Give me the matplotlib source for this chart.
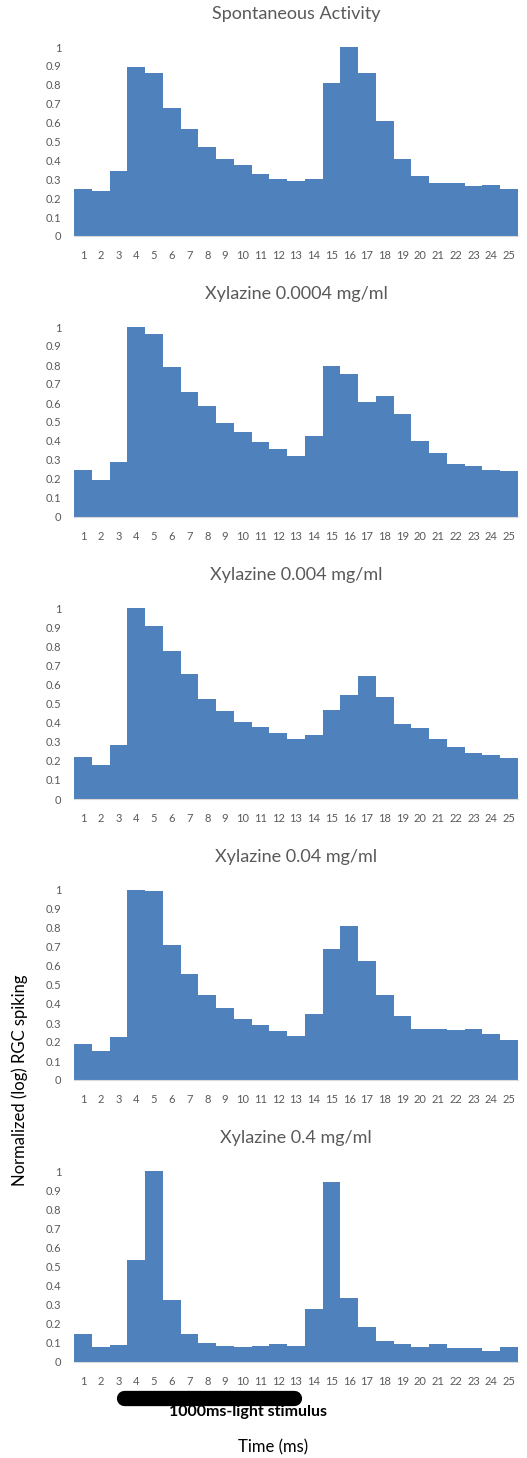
import matplotlib
matplotlib.use("Agg")
import matplotlib.pyplot as plt
import matplotlib.transforms as mtransforms
import numpy as np

plt.rcParams['font.family'] = ['Lato', 'DejaVu Sans']

bins = list(range(1, 26))
titles = ["Spontaneous Activity",
          "Xylazine 0.0004 mg/ml",
          "Xylazine 0.004 mg/ml",
          "Xylazine 0.04 mg/ml",
          "Xylazine 0.4 mg/ml"]

spontaneous = [0.25, 0.24, 0.345, 0.895, 0.86, 0.675, 0.565, 0.47, 0.405, 0.375, 0.33, 0.30, 0.293,
               0.30, 0.808, 1.0, 0.86, 0.61, 0.405, 0.315, 0.283, 0.278, 0.263, 0.272, 0.25]
xyl_0004 = [0.247, 0.196, 0.292, 1.0, 0.965, 0.79, 0.658, 0.586, 0.497, 0.446, 0.395, 0.358, 0.32,
            0.425, 0.796, 0.753, 0.607, 0.637, 0.54, 0.402, 0.337, 0.277, 0.268, 0.247, 0.24]
xyl_004 = [0.219, 0.18, 0.284, 1.0, 0.905, 0.774, 0.657, 0.524, 0.459, 0.401, 0.378, 0.343, 0.313,
           0.334, 0.468, 0.546, 0.643, 0.532, 0.394, 0.37, 0.312, 0.27, 0.24, 0.231, 0.217]
xyl_04 = [0.187, 0.152, 0.226, 1.0, 0.993, 0.708, 0.56, 0.445, 0.378, 0.32, 0.291, 0.256, 0.233,
          0.35, 0.687, 0.811, 0.627, 0.445, 0.335, 0.27, 0.27, 0.261, 0.268, 0.24, 0.21]
xyl_4 = [0.145, 0.079, 0.087, 0.533, 1.0, 0.322, 0.145, 0.101, 0.086, 0.079, 0.086, 0.094, 0.086,
         0.278, 0.942, 0.336, 0.182, 0.11, 0.094, 0.079, 0.094, 0.072, 0.072, 0.059, 0.08]
series = [spontaneous, xyl_0004, xyl_004, xyl_04, xyl_4]

yticks = [0, 0.1, 0.2, 0.3, 0.4, 0.5, 0.6, 0.7, 0.8, 0.9, 1]
ytick_labels = ["0", "0.1", "0.2", "0.3", "0.4", "0.5", "0.6", "0.7", "0.8", "0.9", "1"]

# light stimulus span in bin units
stim_start, stim_end = 3.3, 12.9

W, H = 527, 1458
fig = plt.figure(figsize=(W / 100, H / 100), dpi=100)

# (bottom pixel of y=0, top pixel of y=1) for each panel
panel_px = [(236, 47), (517, 327), (799, 608), (1080, 890), (1362, 1171)]
left_px, right_px = 74, 518
blue = '#4F81BD'
grey = '#595959'

axes = []
for (b, t), title, vals in zip(panel_px, titles, series):
    ax = fig.add_axes([left_px / W, 1 - b / H, (right_px - left_px) / W, (b - t) / H])
    ax.bar(bins, vals, width=1.0, color=blue, linewidth=0)
    ax.set_xlim(0.5, 25.5)
    ax.set_ylim(0, 1)
    ax.set_yticks(yticks)
    ax.set_yticklabels(ytick_labels)
    ax.set_xticks(bins)
    ax.set_xticklabels([str(i) for i in bins])
    ax.tick_params(axis='both', length=0, labelsize=8, colors=grey)
    ax.tick_params(axis='x', pad=10)
    ax.tick_params(axis='y', pad=9)
    for s in ['top', 'right', 'left']:
        ax.spines[s].set_visible(False)
    ax.spines['bottom'].set_color('#D9D9D9')
    ax.spines['bottom'].set_linewidth(0.8)
    ax.set_title(title, fontsize=13, color=grey, pad=20)
    axes.append(ax)

ax5 = axes[-1]
trans = mtransforms.blended_transform_factory(ax5.transData, ax5.transAxes)
ax5.plot([stim_start, stim_end], [-0.186, -0.186], transform=trans, clip_on=False,
         color='black', linewidth=11, solid_capstyle='round')
ax5.text(10.3, -0.262, "1000ms-light stimulus", transform=trans,
         ha='center', va='center', fontsize=11.5, fontweight='bold', color='black')

fig.text(273 / W, 1 - 1447 / H, "Time (ms)", ha='center', va='center', fontsize=12, color='black')
fig.text(20 / W, 1 - 1080 / H, "Normalized (log) RGC spiking", ha='center', va='center',
         rotation=90, fontsize=12, color='black')

fig.savefig("out.png", dpi=100)
